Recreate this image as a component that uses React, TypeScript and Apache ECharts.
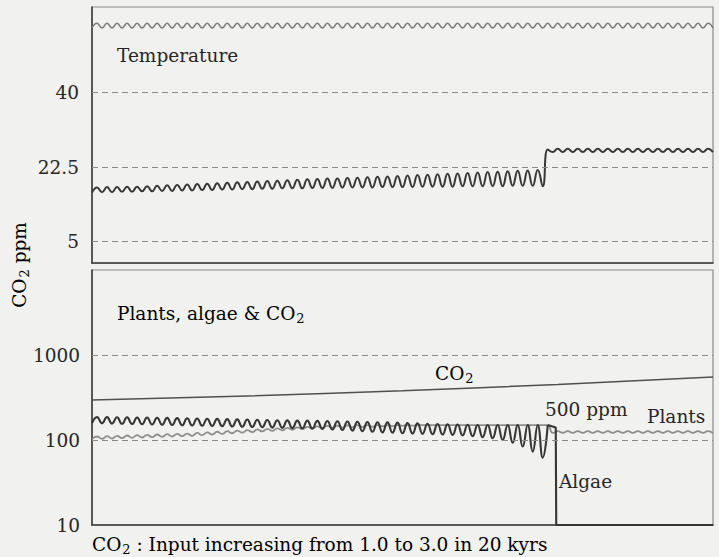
import React, { useEffect, useRef } from "react";
import * as echarts from "echarts";

// x is measured in half-cycles of the oscillation (0 .. 124 across the plot)
const xMax = 124;

// Top panel (temperature scale 0..60)
const tempTicks = [5, 22.5, 40];
const tempUpper = [
  55.1, 56.2, 55.1, 56.2, 55.1, 56.2, 55.1, 56.2, 55.1, 56.2,
  55.1, 56.2, 55.1, 56.2, 55.1, 56.2, 55.1, 56.2, 55.1, 56.2,
  55.1, 56.2, 55.1, 56.2, 55.1, 56.2, 55.1, 56.2, 55.1, 56.2,
  55.1, 56.2, 55.1, 56.2, 55.1, 56.2, 55.1, 56.2, 55.1, 56.2,
  55.1, 56.2, 55.1, 56.2, 55.1, 56.2, 55.1, 56.2, 55.1, 56.2,
  55.1, 56.2, 55.1, 56.2, 55.1, 56.2, 55.1, 56.2, 55.1, 56.2,
  55.1, 56.2, 55.1, 56.2, 55.1, 56.2, 55.1, 56.2, 55.1, 56.2,
  55.1, 56.2, 55.1, 56.2, 55.1, 56.2, 55.1, 56.2, 55.1, 56.2,
  55.1, 56.2, 55.1, 56.2, 55.1, 56.2, 55.1, 56.2, 55.1, 56.2,
  55.1, 56.2, 55.1, 56.2, 55.1, 56.2, 55.1, 56.2, 55.1, 56.2,
  55.1, 56.2, 55.1, 56.2, 55.1, 56.2, 55.1, 56.2, 55.1, 56.2,
  55.1, 56.2, 55.1, 56.2, 55.1, 56.2, 55.1, 56.2, 55.1, 56.2,
  55.1, 56.2, 55.1, 56.2, 55.1,
];
const tempLower = [
  16.5, 17.7, 16.6, 17.8, 16.6, 17.8, 16.7, 17.9, 16.7, 17.9,
  16.8, 18.0, 16.8, 18.1, 16.9, 18.2, 16.9, 18.3, 17.0, 18.4,
  17.0, 18.5, 17.1, 18.6, 17.1, 18.7, 17.2, 18.8, 17.2, 18.9,
  17.3, 19.0, 17.3, 19.1, 17.4, 19.2, 17.4, 19.3, 17.5, 19.4,
  17.5, 19.5, 17.5, 19.6, 17.6, 19.7, 17.6, 19.8, 17.6, 19.8,
  17.7, 19.9, 17.7, 20.0, 17.7, 20.1, 17.7, 20.2, 17.8, 20.3,
  17.8, 20.4, 17.8, 20.5, 17.8, 20.6, 17.9, 20.7, 17.9, 20.8,
  17.9, 20.9, 17.9, 21.0, 18.0, 21.1, 18.0, 21.2, 18.0, 21.3,
  18.0, 21.4, 18.0, 21.5, 18.1, 21.6, 18.1, 21.7, 18.1, 21.8,
  18.0, 26.6, 26.0, 26.8, 26.0, 26.8, 26.0, 26.8, 26.0, 26.8,
  26.0, 26.8, 26.0, 26.8, 26.0, 26.8, 26.0, 26.8, 26.0, 26.8,
  26.0, 26.8, 26.0, 26.8, 26.0, 26.8, 26.0, 26.8, 26.0, 26.8,
  26.0, 26.8, 26.0, 26.8, 26.0,
];

// Bottom panel (log scale, ppm)
const co2X = [0, 31, 62, 93, 124];
const co2Ppm = [296, 330, 380, 450, 550];
const plants = [
  102, 110, 103, 111, 104, 112, 105, 113, 106, 114,
  107, 115, 108, 116, 109, 117, 110, 118, 111, 119,
  112, 121, 114, 123, 116, 125, 118, 127, 120, 129,
  122, 131, 124, 133, 126, 135, 128, 137, 130, 139,
  132, 141, 134, 143, 136, 145, 138, 147, 139, 148,
  140, 149, 141, 150, 142, 150, 143, 150, 145, 150,
  146, 150, 147, 150, 148, 150, 150, 150, 150, 150,
  150, 150, 150, 150, 150, 150, 150, 150, 150, 150,
  150, 150, 150, 150, 150, 150, 150, 150, 150, 150,
  150, 150, 121, 127, 121, 127, 121, 127, 121, 127,
  121, 127, 121, 127, 121, 127, 121, 127, 121, 127,
  121, 127, 121, 127, 121, 127, 121, 127, 121, 127,
  121, 127, 121, 127, 121,
];
const algae = [
  158, 186, 157, 186, 156, 185, 155, 185, 154, 184,
  153, 184, 152, 183, 151, 182, 150, 181, 149, 180,
  148, 179, 147, 178, 146, 177, 145, 176, 144, 175,
  143, 174, 142, 173, 141, 172, 140, 171, 139, 170,
  138, 169, 137, 169, 136, 168, 135, 167, 133, 166,
  131, 165, 129, 164, 127, 163, 125, 162, 123, 161,
  122, 160, 120, 158, 119, 157, 118, 155, 117, 154,
  116, 153, 115, 152, 113, 151, 111, 150, 108, 150,
  105, 150, 100, 150, 93, 150, 84, 150, 73, 150,
  62, 150,
];
const algaeCrashX = [91, 92.6, 92.7, 124];
const algaeCrashPpm = [150, 140, 10, 10];
const ppmGrid = [100, 1000];

const FONT = "DejaVu Serif";
const INK = "#262626";
const FS = 18.5;

export default function App() {
  const ref = useRef<HTMLDivElement>(null);
  useEffect(() => {
    const chart = echarts.init(ref.current!, null, { renderer: "svg" });
    const dashed = { type: [6, 4] as any, color: "#8a8a8a", width: 1.2 };
    const sub = {
      a: { fontFamily: FONT, fontSize: FS, color: INK },
      s: { fontFamily: FONT, fontSize: 13, color: INK, padding: [10, 0, 0, 1] },
    };
    const xAx = (gi: number) => ({
      type: "value",
      gridIndex: gi,
      min: 0,
      max: xMax,
      axisLabel: { show: false },
      axisTick: { show: false },
      splitLine: { show: false },
      axisLine: { show: true, lineStyle: { color: "#3a3a3a", width: 1.5 } },
    });
    chart.setOption({
      animation: false,
      backgroundColor: "#f1f1ef",
      grid: [
        { left: 92, right: 6, top: 7, height: 256, show: true, borderColor: "#8a8a8a", borderWidth: 1.2 },
        { left: 92, right: 6, top: 270, height: 255, show: true, borderColor: "#8a8a8a", borderWidth: 1.2 },
      ],
      xAxis: [xAx(0), xAx(1)],
      yAxis: [
        {
          type: "value",
          gridIndex: 0,
          min: 0,
          max: 60,
          splitLine: { show: false },
          axisTick: { show: false },
          axisLine: { show: true, lineStyle: { color: "#3a3a3a", width: 1.5 } },
          axisLabel: {
            customValues: tempTicks,
            formatter: (v: number) => String(v),
            fontFamily: FONT,
            fontSize: FS,
            color: INK,
            margin: 13,
          },
        },
        {
          type: "log",
          logBase: 10,
          gridIndex: 1,
          min: 10,
          max: 10000,
          splitLine: { show: false },
          axisTick: { show: false },
          axisLine: { show: true, lineStyle: { color: "#3a3a3a", width: 1.5 } },
          axisLabel: {
            formatter: (v: number) => (v >= 10000 ? "" : String(v)),
            fontFamily: FONT,
            fontSize: FS,
            color: INK,
            margin: 12,
          },
        },
      ],
      series: [
        {
          type: "line",
          xAxisIndex: 0,
          yAxisIndex: 0,
          data: tempUpper.map((v, i) => [i, v]),
          smooth: true,
          symbol: "none",
          lineStyle: { color: "#7c7c7c", width: 1.6 },
          markLine: {
            silent: true,
            symbol: "none",
            label: { show: false },
            lineStyle: dashed,
            data: tempTicks.map((t) => ({ yAxis: t })),
          },
        },
        {
          type: "line",
          xAxisIndex: 0,
          yAxisIndex: 0,
          data: tempLower.map((v, i) => [i, v]),
          smooth: true,
          symbol: "none",
          lineStyle: { color: "#383838", width: 2 },
        },
        {
          type: "line",
          xAxisIndex: 1,
          yAxisIndex: 1,
          data: co2X.map((x, i) => [x, co2Ppm[i]]),
          smooth: true,
          symbol: "none",
          lineStyle: { color: "#505050", width: 1.5 },
          markLine: {
            silent: true,
            symbol: "none",
            label: { show: false },
            lineStyle: dashed,
            data: ppmGrid.map((t) => ({ yAxis: t })),
          },
        },
        {
          type: "line",
          xAxisIndex: 1,
          yAxisIndex: 1,
          data: plants.map((v, i) => [i, v]),
          smooth: true,
          symbol: "none",
          lineStyle: { color: "#8e8e8e", width: 1.8 },
        },
        {
          type: "line",
          xAxisIndex: 1,
          yAxisIndex: 1,
          data: algae.map((v, i) => [i, v]),
          smooth: true,
          symbol: "none",
          lineStyle: { color: "#363636", width: 2.1 },
        },
        {
          type: "line",
          xAxisIndex: 1,
          yAxisIndex: 1,
          data: algaeCrashX.map((x, i) => [x, algaeCrashPpm[i]]),
          smooth: false,
          symbol: "none",
          lineStyle: { color: "#363636", width: 2.1 },
        },
      ],
      graphic: [
        { type: "text", x: 117, y: 55, style: { text: "Temperature", font: `${FS}px '${FONT}'`, fill: INK, verticalAlign: "middle" } },
        { type: "text", x: 117, y: 313, style: { text: "{a|Plants, algae & CO}{s|2}", rich: sub, verticalAlign: "middle" } },
        { type: "text", x: 435, y: 373, style: { text: "{a|CO}{s|2}", rich: sub, verticalAlign: "middle" } },
        { type: "text", x: 545, y: 409, style: { text: "500 ppm", font: `${FS}px '${FONT}'`, fill: INK, verticalAlign: "middle" } },
        { type: "text", x: 647, y: 416, style: { text: "Plants", font: `${FS}px '${FONT}'`, fill: INK, verticalAlign: "middle" } },
        { type: "text", x: 559, y: 481, style: { text: "Algae", font: `${FS}px '${FONT}'`, fill: INK, verticalAlign: "middle" } },
        { type: "text", x: 92, y: 544, style: { text: "{a|CO}{s|2}{a| : Input increasing from 1.0 to 3.0 in 20 kyrs}", rich: sub, verticalAlign: "middle" } },
        { type: "text", x: 19, y: 265, rotation: Math.PI / 2, style: { text: "{a|CO}{s|2}{a| ppm}", rich: sub, align: "center", verticalAlign: "middle" } },
      ],
    });
    return () => chart.dispose();
  }, []);
  return <div ref={ref} style={{ position: "fixed", left: 0, top: 0, width: 719, height: 557 }} />;
}
